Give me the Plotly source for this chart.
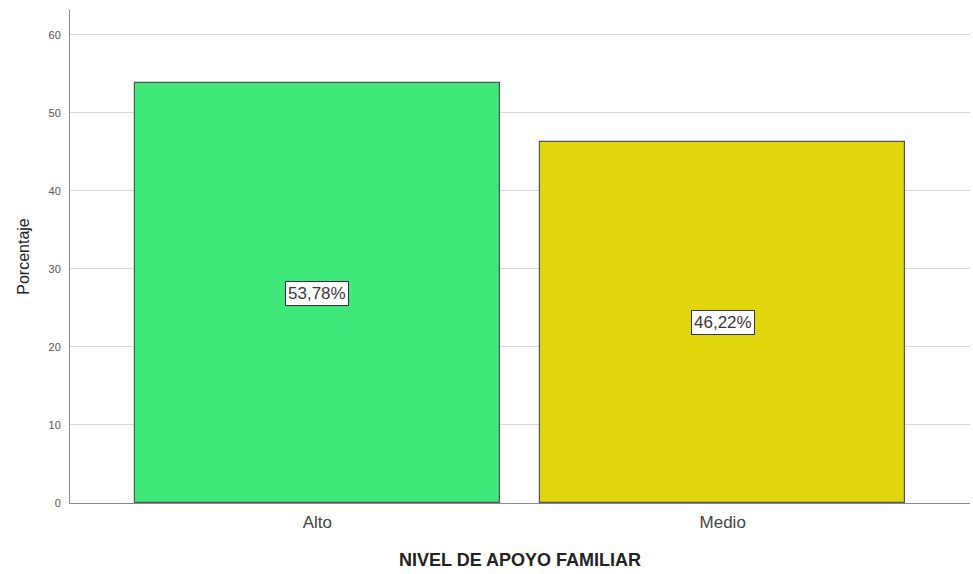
import plotly.graph_objects as go

# Family support level distribution (percent)
categories = ["Alto", "Medio"]
percentages = [53.78, 46.22]
bar_colors = ["#3fe87b", "#e1d60c"]
y_ticks = [0, 10, 20, 30, 40, 50, 60]

x_pos = list(range(len(categories)))
FONT = "Liberation Sans, Arial"

fig = go.Figure()
fig.add_trace(go.Bar(
    x=x_pos,
    y=percentages,
    width=0.9,
    marker=dict(color=bar_colors, line=dict(color="#555555", width=1.2)),
    hoverinfo="skip",
))

# Value boxes centred vertically on each bar
for xi, v in zip(x_pos, percentages):
    fig.add_annotation(
        x=xi, y=v / 2,
        text=f"{v:.2f}%".replace(".", ","),
        showarrow=False,
        font=dict(family=FONT, size=17, color="#3a3a3a"),
        bgcolor="white",
        bordercolor="#333333",
        borderwidth=1,
        borderpad=2,
    )

fig.update_layout(
    width=973, height=574,
    margin=dict(l=70, r=3, t=10, b=71),
    paper_bgcolor="white",
    plot_bgcolor="white",
    showlegend=False,
    bargap=0,
    xaxis=dict(
        range=[-0.61, 1.61],
        tickmode="array",
        tickvals=x_pos,
        ticktext=categories,
        showgrid=False,
        zeroline=False,
        showline=True,
        linecolor="#8a8a8a",
        linewidth=1,
        ticks="",
        ticklabelstandoff=4,
        tickfont=dict(family=FONT, size=17, color="#444444"),
        title=dict(
            text="<b>NIVEL DE APOYO FAMILIAR</b>",
            font=dict(family=FONT, size=18, color="#222222"),
            standoff=21,
        ),
    ),
    yaxis=dict(
        range=[0, 63.2],
        tickmode="array",
        tickvals=y_ticks,
        showgrid=True,
        gridcolor="#d9d9d9",
        gridwidth=1,
        zeroline=False,
        showline=True,
        linecolor="#8a8a8a",
        linewidth=1,
        ticks="",
        ticklabelstandoff=6,
        tickfont=dict(family=FONT, size=11, color="#555555"),
        title=dict(
            text="Porcentaje",
            font=dict(family=FONT, size=16, color="#222222"),
            standoff=14,
        ),
    ),
)

fig.write_html("out.html")
